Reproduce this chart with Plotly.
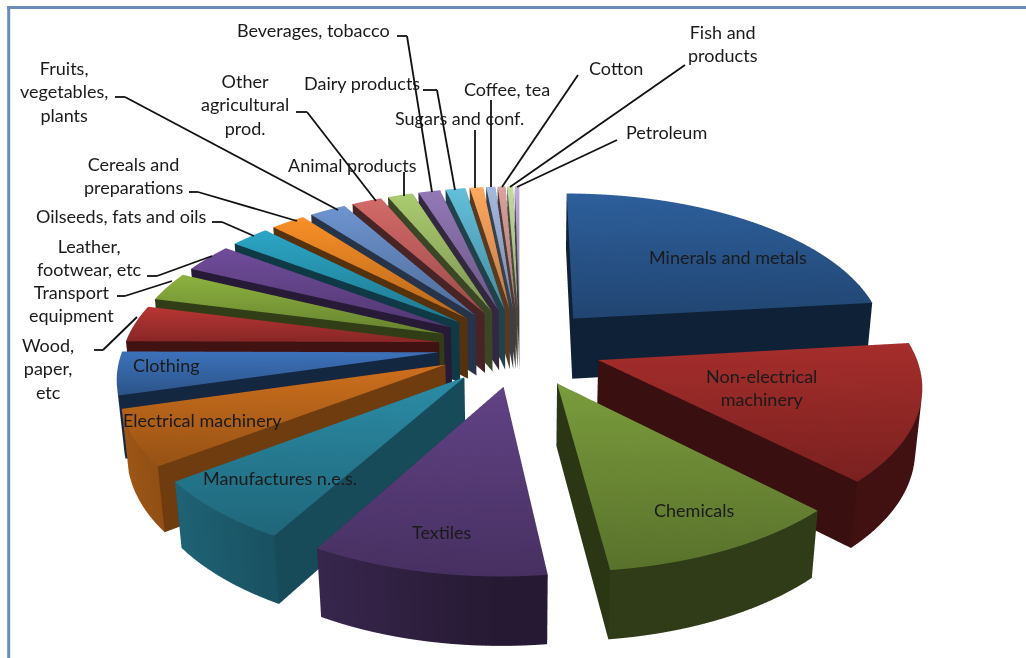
import numpy as np
import plotly.graph_objects as go

categories = ["Minerals and metals","Non-electrical machinery","Chemicals","Textiles","Manufactures n.e.s.",
 "Electrical machinery","Clothing","Wood, paper, etc","Transport equipment","Leather, footwear, etc",
 "Oilseeds, fats and oils","Cereals and preparations","Fruits, vegetables, plants","Other agricultural prod.",
 "Animal products","Beverages, tobacco","Dairy products","Sugars and conf.","Coffee, tea","Cotton","Fish and products","Petroleum"]
values = [23.2,14.35,10.49,10.13,6.6,5.82,4.5,3.86,3.08,3.05,2.34,2.08,2.2,1.81,1.51,1.32,1.19,0.81,0.55,0.47,0.36,0.28]
top_colors = ["#2C5C96","#A02C2A","#76963A","#5E4080","#2A87A0","#C66C1C","#3A6EB4","#B23432","#88AC3E","#6C4A96",
 "#2AA0BE","#F08A26","#6A8FC8","#CC6664","#A5C46C","#8E74B0","#5FB8D2","#F8A25C","#9DB3D8","#D59C9A","#BFD49C","#B8A8CE"]

W, H = 1026, 658
EXPLODE, THICK = 0.26, 0.225
SCALE, CX, CY = 315, 520, 347
TILT, DIST = np.radians(28.5), 6.2
ZOOM = 2.0

def project(X, Y, Z):
    D = Y*np.cos(TILT) - Z*np.sin(TILT)
    g = 1/(1+D/DIST)
    sx = CX + SCALE*X*g
    sy = CY - SCALE*(Y*np.sin(TILT)+Z*np.cos(TILT))*g
    return sx, H-sy, -D

def shade(c, f):
    r,g,b = int(c[1:3],16),int(c[3:5],16),int(c[5:7],16)
    return f"rgb({min(255,int(r*f))},{min(255,int(g*f))},{min(255,int(b*f))})"

LIGHT = dict(ambient=1,diffuse=0,specular=0,roughness=1,fresnel=0)
fig = go.Figure()
cum = 0.0
total = sum(values)
for name, v, col in zip(categories, values, top_colors):
    a0 = cum/total*2*np.pi; cum += v; a1 = cum/total*2*np.pi
    m = (a0+a1)/2
    ox, oy = EXPLODE*np.sin(m), EXPLODE*np.cos(m)
    n = max(3, int((a1-a0)/0.03))
    th = np.linspace(a0,a1,n)
    rx, ry = ox+np.sin(th), oy+np.cos(th)
    # top face: lit from above, darker towards the viewer
    sx,sy,sz = project(np.r_[ox,rx], np.r_[oy,ry], np.zeros(n+1))
    lo,hi = sy.min(), sy.max()
    tc = [shade(col, 0.76+0.28*(q-lo)/max(hi-lo,1)) for q in sy]
    fig.add_trace(go.Mesh3d(x=sx,y=sy,z=sz,i=[0]*(n-1),j=list(range(1,n)),k=list(range(2,n+1)),
        vertexcolor=tc,lighting=LIGHT,hoverinfo="skip",name=name))
    # outer wall: lighter where it faces left
    sx,sy,sz = project(np.r_[rx,rx], np.r_[ry,ry], np.r_[np.zeros(n),np.full(n,-THICK)])
    si,sj,sk=[],[],[]
    for q in range(n-1):
        si+=[q,q+1]; sj+=[q+1,n+q+1]; sk+=[n+q,n+q]
    fac = 0.40+0.42*np.maximum(0,-np.sin(th))
    sc=[shade(col,f) for f in fac]*2
    fig.add_trace(go.Mesh3d(x=sx,y=sy,z=sz,i=si,j=sj,k=sk,vertexcolor=sc,lighting=LIGHT,hoverinfo="skip",name=name))
    # radial walls
    deg = np.degrees(m)
    rf = 0.56 if 200 < deg < 260 else 0.36
    for ex,ey in ((rx[0],ry[0]),(rx[-1],ry[-1])):
        sx,sy,sz = project(np.array([ox,ex,ex,ox]),np.array([oy,ey,ey,oy]),np.array([0,0,-THICK,-THICK]))
        fig.add_trace(go.Mesh3d(x=sx,y=sy,z=sz,i=[0,0],j=[1,2],k=[2,3],
            facecolor=[shade(col,rf)]*2,lighting=LIGHT,hoverinfo="skip",name=name))

labels = [("Minerals and metals",728,257),("Non-electrical<br>machinery",761,387),("Chemicals",694,510),("Textiles",442,532),
 ("Manufactures n.e.s.",280,478),("Electrical machinery",202,420),("Clothing",166,365),("Wood,<br>paper,<br>etc",48,368),
 ("Transport<br>equipment",71,303),("Leather,<br>footwear, etc",89,257),("Oilseeds, fats and oils",121,216),
 ("Cereals and<br>preparations",133,175),("Fruits,<br>vegetables,<br>plants",64,91),("Other<br>agricultural<br>prod.",245,105),
 ("Animal products",352,165),("Beverages, tobacco",313,30),("Dairy products",362,83),("Sugars and conf.",459,118),
 ("Coffee, tea",507,89),("Cotton",616,68),("Fish and<br>products",723,44),("Petroleum",666,132)]
px = lambda x: x/W
py = lambda y: 1-y/H
anns=[dict(x=px(a),y=py(b),xref="paper",yref="paper",text=t,showarrow=False,align="center",xanchor="center",yanchor="middle",
     font=dict(family="Lato",size=18,color="#1a1a1a")) for t,a,b in labels]
leaders=[[(189,192),(198,192),(297,221)],[(115,97),(125,97),(338,210)],[(296,112),(307,112),(376,201)],[(404,172),(404,196)],
 [(397,36),(407,36),(432,192)],[(423,90),(437,90),(455,190)],[(475,130),(475,188)],[(491,100),(491,187)],
 [(578,75),(502,187)],[(685,65),(510,187)],[(617,140),(517,187)],
 [(94,350),(103,350),(137,317)],[(117,296),(125,296),(172,281)],[(147,276),(157,276),(212,256)],[(212,222),(222,222),(254,236)]]
shapes=[]
for L in leaders:
    for (a,b),(c,d) in zip(L,L[1:]):
        shapes.append(dict(type="line",xref="paper",yref="paper",x0=px(a),x1=px(c),y0=py(b),y1=py(d),line=dict(color="#111111",width=1.8)))
FRAME="#6A8CBA"
shapes.append(dict(type="line",xref="paper",yref="paper",x0=px(8.7),x1=px(8.7),y0=0,y1=py(6),line=dict(color=FRAME,width=3)))
shapes.append(dict(type="line",xref="paper",yref="paper",x0=px(7),x1=1,y0=py(7.5),y1=py(7.5),line=dict(color=FRAME,width=3)))
def ax(r): return dict(visible=False,range=r,autorange=False)
fig.update_layout(width=W,height=H,margin=dict(l=0,r=0,t=0,b=0),paper_bgcolor="white",showlegend=False,
  annotations=anns,shapes=shapes,
  scene=dict(xaxis=ax([0,W]),yaxis=ax([0,H]),zaxis=ax([-3,3]),aspectmode="manual",
     aspectratio=dict(x=ZOOM*W/H,y=ZOOM,z=ZOOM*0.5),domain=dict(x=[0,1],y=[0,1]),
     camera=dict(projection=dict(type="orthographic"),eye=dict(x=0,y=0,z=1),center=dict(x=0,y=0,z=0),up=dict(x=0,y=1,z=0))))
fig.write_html("out.html", config={"displayModeBar":False}, post_script="document.body.style.margin='0';document.documentElement.style.overflow='hidden';")
